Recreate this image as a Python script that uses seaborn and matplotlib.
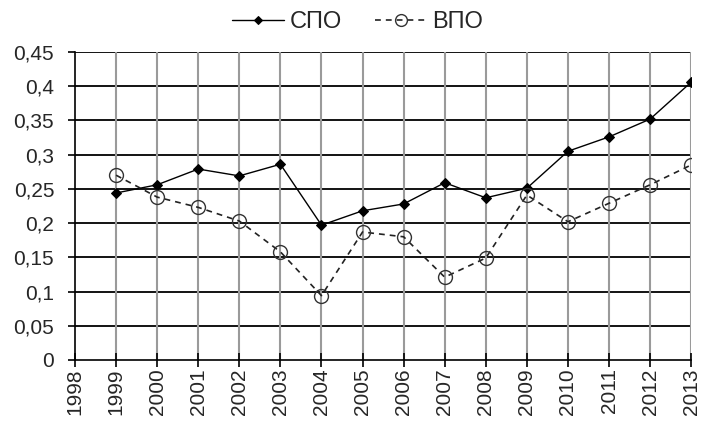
import matplotlib
matplotlib.use("Agg")
import matplotlib.pyplot as plt
from matplotlib.ticker import FuncFormatter, MultipleLocator
import seaborn as sns
import pandas as pd

years = [1999, 2000, 2001, 2002, 2003, 2004, 2005, 2006, 2007, 2008, 2009, 2010, 2011, 2012, 2013]
spo = [0.244, 0.256, 0.279, 0.269, 0.286, 0.197, 0.218, 0.228, 0.259, 0.237, 0.251, 0.305, 0.326, 0.352, 0.406]
vpo = [0.270, 0.238, 0.223, 0.203, 0.158, 0.094, 0.187, 0.180, 0.121, 0.149, 0.241, 0.202, 0.229, 0.256, 0.285]
series_names = ["СПО", "ВПО"]

sns.set_style("white")
plt.rcParams["font.family"] = ["Liberation Sans", "DejaVu Sans"]

df = pd.DataFrame({"year": years, series_names[0]: spo, series_names[1]: vpo})

fig = plt.figure(figsize=(7.01, 4.23), dpi=100)
ax = fig.add_axes([0.107, 0.149, 0.879, 0.728])

sns.lineplot(data=df, x="year", y=series_names[0], ax=ax, color="black", lw=1.0,
             marker="D", markersize=5, markerfacecolor="black", markeredgecolor="black",
             label=series_names[0])
sns.lineplot(data=df, x="year", y=series_names[1], ax=ax, color="#222222", lw=1.2,
             linestyle=(0, (3.5, 3)), marker="o", markersize=10, markerfacecolor="none",
             markeredgecolor="#333333", markeredgewidth=1.0, label=series_names[1])

ax.set_xlim(1998, 2013)
ax.set_ylim(0, 0.45)
ax.set_xticks(list(range(1998, 2014)))
ax.yaxis.set_major_locator(MultipleLocator(0.05))

def comma_fmt(v, pos):
    s = f"{v:.2f}".rstrip("0").rstrip(".")
    return s.replace(".", ",")

ax.yaxis.set_major_formatter(FuncFormatter(comma_fmt))

ax.grid(False)
for y in [0.05 * i for i in range(1, 10)]:
    ax.axhline(y, color="black", lw=1.3, zorder=0)
for x in range(1999, 2014):
    ax.axvline(x, color="#9a9a9a", lw=1.5, zorder=0)

for s in ["top", "right"]:
    ax.spines[s].set_visible(False)
ax.spines["left"].set_color("black")
ax.spines["bottom"].set_color("black")
ax.spines["left"].set_linewidth(1.2)
ax.spines["bottom"].set_linewidth(1.2)

ax.tick_params(axis="x", direction="inout", length=10, width=1.2, color="black",
               labelsize=15, rotation=90, pad=1, bottom=True)
ax.tick_params(axis="y", direction="out", length=5, width=1.2, color="black",
               labelsize=15, pad=10, left=True)

ax.set_xlabel("")
ax.set_ylabel("")

handles, labels = ax.get_legend_handles_labels()
ax.get_legend().remove()
fig.legend(handles, labels, loc="center", bbox_to_anchor=(0.51, 0.948), ncol=2,
           frameon=False, fontsize=17, handlelength=2.2, handletextpad=0.25,
           columnspacing=1.4, borderaxespad=0, markerscale=0.85)

fig.savefig("out.png", dpi=100)
